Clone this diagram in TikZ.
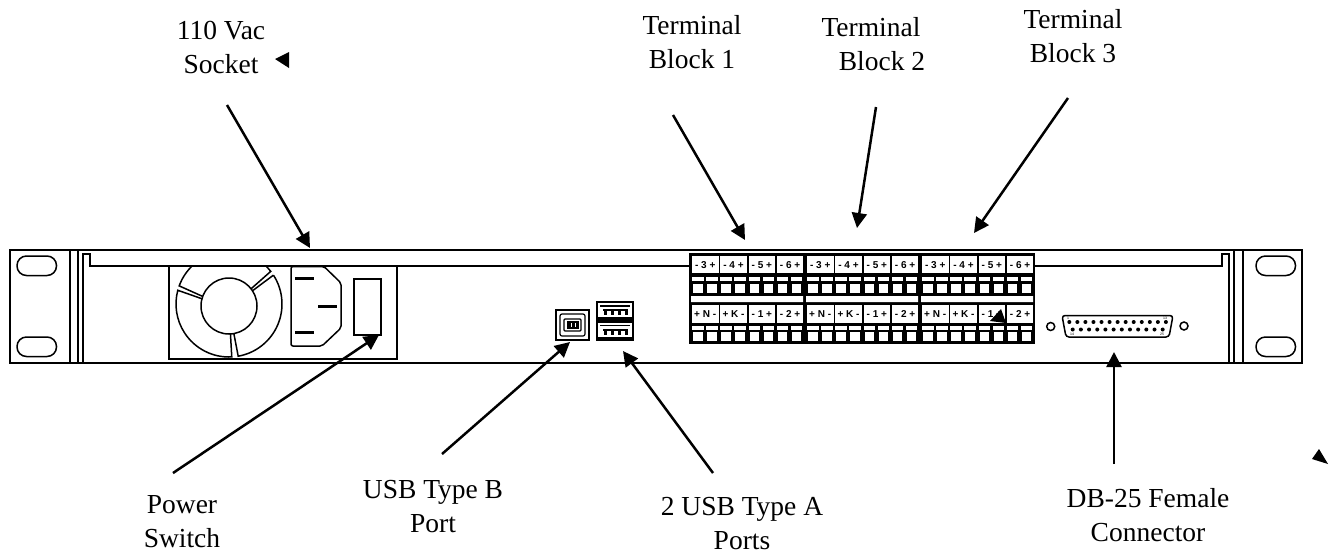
\documentclass[tikz,border=0pt]{standalone}
\usepackage{fontspec}
\setmainfont{Liberation Serif}
\setsansfont{Liberation Sans}
\usepackage{xcolor}
\usepackage{tikz}
\usetikzlibrary{arrows.meta,positioning,calc}
\tikzset{
  label/.style={align=center,font=\fontsize{27.5}{33.5}\selectfont,inner sep=0pt,anchor=base},
  callout/.style={-{Triangle[length=15pt,width=15pt]},line width=2.5pt,draw=black},
  outline/.style={draw=black,line width=2pt},
  thinline/.style={draw=black,line width=1.5pt},
  slot/.style={draw=black,line width=1.5pt,rounded corners=9.5pt},
  pin/.style={fill=black,inner sep=0pt,minimum size=4pt,circle},
  hole/.style={draw=black,line width=1.5pt,circle,inner sep=0pt,minimum size=8pt},
  celltext/.style={font=\fontsize{10}{10}\selectfont\sffamily\bfseries,text=black,inner sep=0pt},
  tinytext/.style={font=\fontsize{3.5}{4}\selectfont\sffamily,inner sep=0pt}
}
\begin{document}
\begin{tikzpicture}[x=1pt,y=-1pt]
  \useasboundingbox (0,0) rectangle (1333,552);
  % chassis
  \draw[outline] (10,250) rectangle (1302,362.5);
  \draw[thinline] (70,250) -- (70,362.5) (78,250) -- (78,362.5);
  \draw[thinline] (83,362.5) -- (83,254) -- (90,254) -- (90,266) -- (690,266);
  \draw[thinline] (1033,266) -- (1222,266) -- (1222,254) -- (1229,254) -- (1229,362.5);
  \draw[outline] (1234,250) -- (1234,362.5);
  \draw[thinline] (1243,250) -- (1243,362.5);
  \foreach \xa in {17,1256}
    \foreach \ya in {256,337}
      \draw[slot] (\xa,\ya) rectangle ++(39.5,19.5);
  % power module
  \draw[thinline] (169,266) rectangle (397,359);
  \begin{scope}
    \clip (169,266) rectangle (397,359);
    \coordinate (fan) at (229,304);
    \coordinate (hub) at (229,306);
    \draw[thinline] ($(fan)+(-33:53)$) arc (-33:80:53) -- ($(hub)+(80:28)$);
    \draw[thinline] ($(fan)+(-33:53)$) -- ($(hub)+(-33:28)$);
    \draw[thinline] ($(hub)+(87:28)$) -- ($(fan)+(87:53)$) arc (87:195:53) -- ($(hub)+(195:28)$);
    \draw[thinline] ($(hub)+(-38:28)$) -- ($(fan)+(-38:53)$) arc (-38:-160:53) -- ($(hub)+(-160:28)$);
    \draw[thinline] (hub) circle (28);
  \end{scope}
  \draw[thinline,rounded corners=2pt] (291,266.5) -- (324,266.5) -- (341,283) -- (341,328) -- (322,346) -- (291,346) -- cycle;
  \foreach \xa/\ya in {295/278,318/306,295/332}
    \fill (\xa,\ya-1.5) rectangle ++(19,3);
  \draw[outline] (354,279) rectangle (381,335);
  % usb ports
  \draw[outline] (556,310) rectangle (589,340);
  \draw[line width=1.2pt,rounded corners=2pt] (560,314) rectangle (585,336);
  \draw[line width=1.2pt,rounded corners=1pt] (564,319) rectangle (581,331);
  \fill (566.5,321) rectangle (578.5,329);
  \foreach \xa in {571,575.5}
    \draw[white,line width=.8pt] (\xa,323) -- (\xa,327);
  \fill (596,301) rectangle (634,341);
  \foreach \ya in {303,322.5} {
    \fill[white] (598,\ya) rectangle (632,\ya+14);
    \draw[line width=1.2pt] (600,\ya+3) -- (630,\ya+3);
    \fill (603,\ya+6) rectangle (627,\ya+8);
    \foreach \xa in {604,611,618,625}
      \fill (\xa,\ya+6) rectangle ++(3,6);
  }
  % terminal blocks
  \fill (689,253) rectangle (1035,344);
  \fill[white] (691,296) rectangle (803,302) (806,296) rectangle (918,302) (921,296) rectangle (1033,302);
  \foreach \xb in {692,807,922} {
    \foreach \i/\ta/\tb in {0/- 3 +/+ N -,1/- 4 +/+ K -,2/- 5 +/- 1 +,3/- 6 +/- 2 +} {
      \pgfmathsetmacro{\xc}{\xb+\i*28.3}
      \fill[white] (\xc,256) rectangle ++(26.5,17);
      \fill[white] (\xc,305) rectangle ++(26.5,18);
      \node[celltext] at (\xc+13.2,265) {\ta};
      \node[celltext] at (\xc+13.2,314.5) {\tb};
      \foreach \j in {0,14} {
        \fill[white] (\xc+\j,277) rectangle ++(11.5,4);
        \fill[white] (\xc+\j+1,284) rectangle ++(9.5,8.5);
        \fill[white] (\xc+\j,326) rectangle ++(11.5,4);
        \fill[white] (\xc+\j+1,332) rectangle ++(9.5,9);
      }
    }
  }
  % db-25 connector
  \node[hole] (holeL) at (1050.7,326.5) {};
  \node[hole] (holeR) at (1184,326) {};
  \draw[thinline,rounded corners=3pt] (1062,315.5) -- (1173,315.5) -- (1169,337) -- (1066,337) -- cycle;
  \foreach \i in {0,...,12}
    \node[pin] at (1069.3+\i*8.05,322) {};
  \foreach \i in {0,...,11}
    \node[pin] at (1072.7+\i*8.18,329.5) {};
  \node[tinytext] at (1068,318) {1};
  \node[tinytext] at (1165,318) {13};
  \node[tinytext] at (1072,334) {14};
  \node[tinytext] at (1162,334) {25};
  % labels
  \node[label] (vac) at (221,73) {110 Vac\\Socket};
  \node[label] (tb1) at (692,68) {Terminal\\Block 1};
  \node[label] (tb2) at (871,70) {Terminal\\\hspace*{22pt}Block 2};
  \node[label] (tb3) at (1073,62) {Terminal\\Block 3};
  \node[label] (sw) at (182,547) {Power\\Switch};
  \node[label] (usbb) at (433,532) {USB Type B\\Port};
  \node[label] (usba) at (742,549) {2 USB Type A\\Ports};
  \node[label] (db) at (1148,541) {DB-25 Female\\Connector};
  % callouts
  \coordinate (vacS) at (227,105);   \coordinate (vacE) at (310,248);
  \coordinate (tb1S) at (673,115);   \coordinate (tb1E) at (745,240);
  \coordinate (tb2S) at (876,107);   \coordinate (tb2E) at (857,228);
  \coordinate (tb3S) at (1068,98);   \coordinate (tb3E) at (974,233);
  \coordinate (swS) at (173,473);    \coordinate (swE) at (379,335);
  \coordinate (usbbS) at (442,454);  \coordinate (usbbE) at (570,342);
  \coordinate (usbaS) at (713,473);  \coordinate (usbaE) at (623,351);
  \coordinate (dbS) at (1114,464);   \coordinate (dbE) at (1114,352);
  \foreach \ca in {vac,tb1,tb2,tb3,sw,usbb,usba,db}
    \draw[callout] (\ca S) -- (\ca E);
  % loose arrowheads
  \fill (275,59) -- (289,52) -- (289,68) -- cycle;
  \fill (1319,449) -- (1328,464) -- (1312,459) -- cycle;
  \fill (1001,309) -- (1006,323) -- (990,321) -- cycle;
\end{tikzpicture}
\end{document}
